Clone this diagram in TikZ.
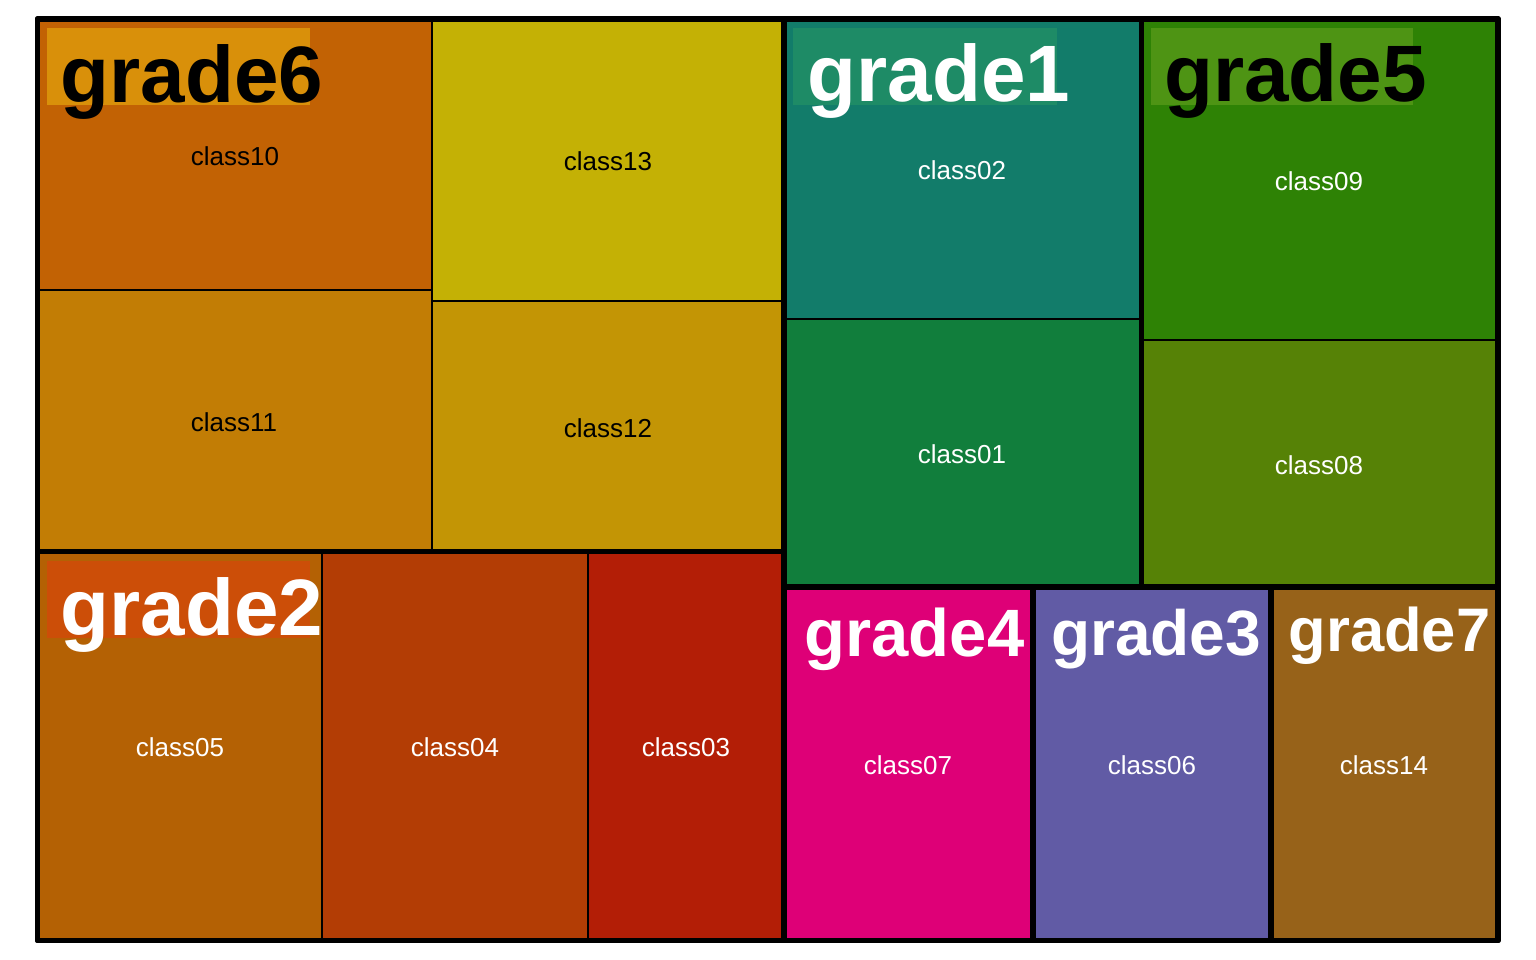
\documentclass[tikz,border=0pt]{standalone}
\usepackage{fontspec}
\setmainfont{Liberation Sans}
\definecolor{cA}{HTML}{C26204}
\definecolor{cB}{HTML}{C27D05}
\definecolor{cC}{HTML}{C4B105}
\definecolor{cD}{HTML}{C39505}
\definecolor{cE}{HTML}{B46104}
\definecolor{cF}{HTML}{B33D05}
\definecolor{cG}{HTML}{B31E06}
\definecolor{cH}{HTML}{127C6A}
\definecolor{cI}{HTML}{117E3C}
\definecolor{cJ}{HTML}{2E8205}
\definecolor{cK}{HTML}{568206}
\definecolor{cL}{HTML}{DE0077}
\definecolor{cM}{HTML}{615BA5}
\definecolor{cN}{HTML}{976219}
\definecolor{hA}{HTML}{D9900A}
\definecolor{hB}{HTML}{CC4E08}
\definecolor{hC}{HTML}{1E8B66}
\definecolor{hD}{HTML}{4E9414}
\tikzset{
  cellbox/.style={draw=black, line width=1.3pt},
  gradebox/.style={draw=black, line width=5.5pt, line join=round},
  cls/.style={inner sep=0pt, font=\fontsize{26}{30}\selectfont},
  grd/.style={inner sep=0pt, anchor=base west},
}
\begin{document}
\begin{tikzpicture}[x=1pt,y=-1pt]
\useasboundingbox (0,0) rectangle (1536,960);
\fill[white] (0,0) rectangle (1536,960);
% grade6 cells
\filldraw[cellbox, fill=cA] (37.5,19) rectangle (432,290);
\filldraw[cellbox, fill=cB] (37.5,290) rectangle (432,551.7);
\filldraw[cellbox, fill=cC] (432,19) rectangle (784,301);
\filldraw[cellbox, fill=cD] (432,301) rectangle (784,551.7);
% grade2 cells
\filldraw[cellbox, fill=cE] (37.5,551.7) rectangle (322,940.5);
\filldraw[cellbox, fill=cF] (322,551.7) rectangle (588,940.5);
\filldraw[cellbox, fill=cG] (588,551.7) rectangle (784,940.5);
% grade1 cells
\filldraw[cellbox, fill=cH] (784,19) rectangle (1141.5,319);
\filldraw[cellbox, fill=cI] (784,319) rectangle (1141.5,587);
% grade5 cells
\filldraw[cellbox, fill=cJ] (1141.5,19) rectangle (1498,340);
\filldraw[cellbox, fill=cK] (1141.5,340) rectangle (1498,587);
% grade4, grade3, grade7
\filldraw[cellbox, fill=cL] (784,587) rectangle (1033,940.5);
\filldraw[cellbox, fill=cM] (1033,587) rectangle (1271,940.5);
\filldraw[cellbox, fill=cN] (1271,587) rectangle (1498,940.5);
% label highlights
\fill[hA] (47,28) rectangle (310,105);
\fill[hB] (47,561) rectangle (310,638);
\fill[hC] (793,28) rectangle (1057,105);
\fill[hD] (1151,28) rectangle (1413,105);
% grade outlines
\draw[gradebox] (37.5,19) rectangle (784,551.7);
\draw[gradebox] (37.5,551.7) rectangle (784,940.5);
\draw[gradebox] (784,19) rectangle (1141.5,587);
\draw[gradebox] (1141.5,19) rectangle (1498,587);
\draw[gradebox] (784,587) rectangle (1033,940.5);
\draw[gradebox] (1033,587) rectangle (1271,940.5);
\draw[gradebox] (1271,587) rectangle (1498,940.5);
\draw[gradebox] (37.5,19) rectangle (1498,940.5);
% class labels
\node[cls, text=black] (l10) at (235,156) {class10};
\node[cls, text=black] (l11) at (234,422) {class11};
\node[cls, text=black] (l13) at (608,161) {class13};
\node[cls, text=black] (l12) at (608,428) {class12};
\node[cls, text=white] (l05) at (180,747) {class05};
\node[cls, text=white] (l04) at (455,747) {class04};
\node[cls, text=white] (l03) at (686,747) {class03};
\node[cls, text=white] (l02) at (962,170) {class02};
\node[cls, text=white] (l01) at (962,454) {class01};
\node[cls, text=white] (l09) at (1319,181) {class09};
\node[cls, text=white] (l08) at (1319,465) {class08};
\node[cls, text=white] (l07) at (908,765) {class07};
\node[cls, text=white] (l06) at (1152,765) {class06};
\node[cls, text=white] (l14) at (1384,765) {class14};
% grade labels
\node[grd, text=black, font=\fontsize{80}{90}\selectfont\bfseries] (g6) at (60.5,102.7) {grade6};
\node[grd, text=white, font=\fontsize{80}{90}\selectfont\bfseries] (g2) at (60.5,635.7) {grade2};
\node[grd, text=white, font=\fontsize{80}{90}\selectfont\bfseries] (g1) at (807.5,101.7) {grade1};
\node[grd, text=black, font=\fontsize{80}{90}\selectfont\bfseries] (g5) at (1164,101.7) {grade5};
\node[grd, text=white, font=\fontsize{67}{75}\selectfont\bfseries] (g4) at (804.5,656.7) {grade4};
\node[grd, text=white, font=\fontsize{64}{72}\selectfont\bfseries] (g3) at (1051,655.7) {grade3};
\node[grd, text=white, font=\fontsize{61.5}{70}\selectfont\bfseries] (g7) at (1288.5,651) {grade7};
\end{tikzpicture}
\end{document}
